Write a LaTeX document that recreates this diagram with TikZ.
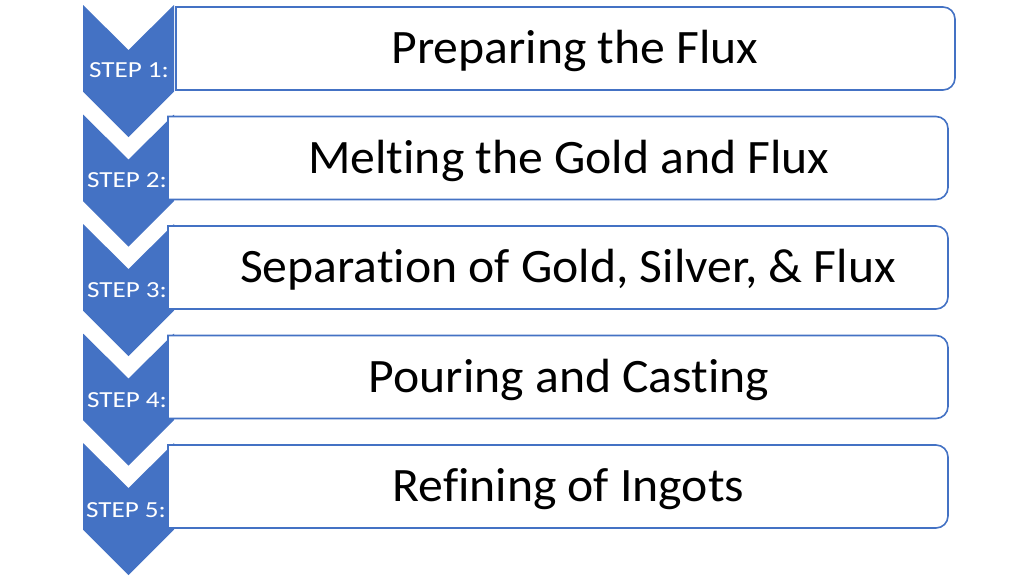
\documentclass[tikz,border=0pt]{standalone}
\usepackage{fontspec}
\usepackage{graphicx}
\setmainfont{Carlito}[Ligatures=NoCommon]
\definecolor{acc}{HTML}{4472C4}
\tikzset{
  chev/.style={fill=acc},
  boxline/.style={draw=acc, line width=1.6pt, fill=white},
  boxarea/.style={inner sep=0pt, outer sep=0pt, minimum height=83pt, anchor=north west},
  boxtext/.style={anchor=base, inner sep=0pt, font=\fontsize{48}{56}\selectfont, text=black},
  steplbl/.style={anchor=base, inner sep=0pt, text=white, font=\fontsize{23}{27}\selectfont}
}
\newcommand{\chevron}[1]{%
  \fill[chev] (83,#1) -- (128.5,#1+45) -- (174,#1) -- (174,#1+86.5) -- (128.5,#1+132) -- (83,#1+86.5) -- cycle;}
\newcommand{\stepbox}[1]{%
  \filldraw[boxline] (#1.south west) -- (#1.north west) -- ([xshift=-12pt]#1.north east)
    arc[start angle=90,end angle=0,radius=12pt] -- ([yshift=12pt]#1.south east)
    arc[start angle=0,end angle=-90,radius=12pt] -- cycle;}
\newcommand{\bt}[1]{\scalebox{1.035}[1]{#1}}
\begin{document}
\begin{tikzpicture}[x=1pt,y=-1pt]
\useasboundingbox (0,0) rectangle (1024,576);
\fill[white] (0,0) rectangle (1024,576);
% chevrons
\chevron{5}
\chevron{114.5}
\chevron{224}
\chevron{333.5}
\chevron{443}
% step labels
\node[steplbl] (s1) at (129,77) {\scalebox{1.18}[1]{STEP 1:}};
\node[steplbl] (s2) at (127,187) {\scalebox{1.18}[1]{STEP 2:}};
\node[steplbl] (s3) at (127,297) {\scalebox{1.18}[1]{STEP 3:}};
\node[steplbl] (s4) at (127,407) {\scalebox{1.18}[1]{STEP 4:}};
\node[steplbl] (s5) at (126,517) {\scalebox{1.18}[1]{STEP 5:}};
% boxes
\node[boxarea, minimum width=779pt] (b1) at (176,7) {};
\node[boxarea, minimum width=780pt] (b2) at (168,116.5) {};
\node[boxarea, minimum width=780pt] (b3) at (168,226) {};
\node[boxarea, minimum width=780pt] (b4) at (168,335.5) {};
\node[boxarea, minimum width=780pt] (b5) at (168,445) {};
\stepbox{b1}
\stepbox{b2}
\stepbox{b3}
\stepbox{b4}
\stepbox{b5}
% texts
\node[boxtext] (t1) at (575,63.5) {\bt{Preparing the Flux}};
\node[boxtext] (t2) at (569,173) {\bt{Melting the Gold and Flux}};
\node[boxtext] (t3) at (568,282.5) {\bt{Separation of Gold, Silver, \& Flux}};
\node[boxtext] (t4) at (569,392) {\bt{Pouring and Casting}};
\node[boxtext] (t5) at (568.5,501.5) {\bt{Refining of Ingots}};
\end{tikzpicture}
\end{document}
